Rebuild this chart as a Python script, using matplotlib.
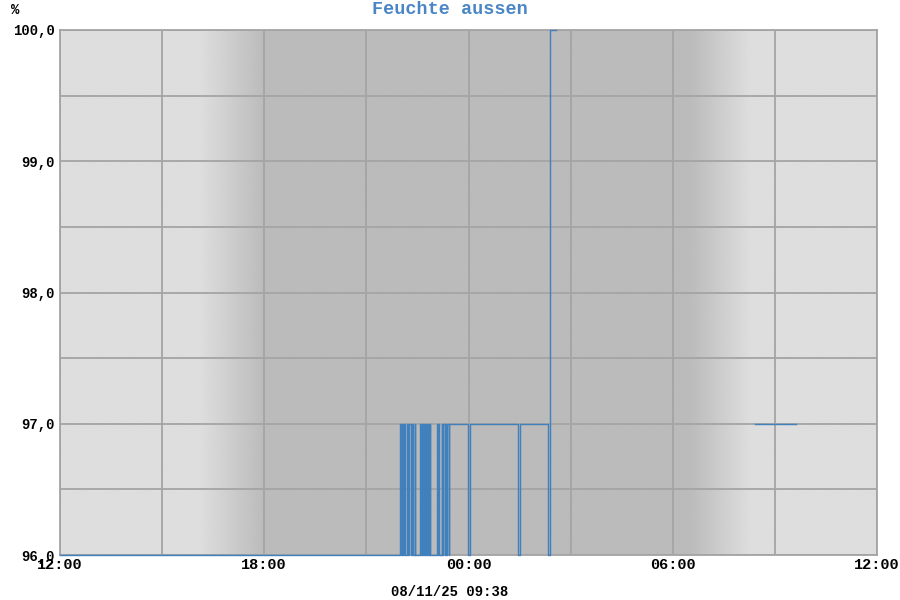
import numpy as np
import matplotlib
matplotlib.use("Agg")
import matplotlib.pyplot as plt
import matplotlib.dates as mdates
from datetime import datetime

# ---- data ----
start = datetime(2025, 11, 7, 12, 0)
end = datetime(2025, 11, 8, 12, 0)
title = "Feuchte aussen"
unit = "%"
stamp = "08/11/25 09:38"
x_tick_labels = ["12:00", "18:00", "00:00", "06:00", "12:00"]
y_ticks = [96.0, 97.0, 98.0, 99.0, 100.0]

# measurement times (day offset, "HH:MM") and humidity values (step series)
times = [
    (0, "12:00"),
    (0, "22:00"), (0, "22:01"), (0, "22:02"), (0, "22:05"), (0, "22:07"), (0, "22:08"),
    (0, "22:11"), (0, "22:13"), (0, "22:15"), (0, "22:18"), (0, "22:20"), (0, "22:22"),
    (0, "22:25"), (0, "22:26"), (0, "22:34"), (0, "22:36"), (0, "22:38"), (0, "22:40"),
    (0, "22:41"), (0, "22:43"), (0, "22:45"), (0, "22:47"), (0, "22:48"), (0, "22:51"),
    (0, "22:52"), (0, "22:53"), (0, "23:05"), (0, "23:06"), (0, "23:07"), (0, "23:08"),
    (0, "23:13"), (0, "23:14"), (0, "23:15"), (0, "23:18"), (0, "23:19"), (0, "23:21"),
    (0, "23:22"), (0, "23:25"), (0, "23:26"),
    (0, "23:59"), (1, "00:02"), (1, "01:27"), (1, "01:30"),
    (1, "02:21"), (1, "02:23"), (1, "02:24"), (1, "02:34"),
    (1, "02:35"), (1, "08:25"), (1, "09:38"),
]
values = [
    96,
    97, 96, 97, 96, 97, 96,
    97, 96, 97, 96, 97, 96,
    97, 96, 97, 96, 97, 96,
    97, 96, 97, 96, 97, 96,
    97, 96, 97, 96, 97, 96,
    97, 96, 97, 96, 97, 96,
    97, 96, 97,
    96, 97, 96, 97,
    96, 99, 100, 100,
    np.nan, 97, 97,
]

# night shading: (fade start, full dark, dark end, fade end) in hours since start
night_edges = [4.1, 6.0, 18.5, 20.3]

# ---- build ----
def to_dt(d, hm):
    h, m = map(int, hm.split(":"))
    return datetime(2025, 11, 7 + d, h, m)

tx = [to_dt(d, hm) for d, hm in times]
tnum = mdates.date2num(tx)
vals = np.array(values, dtype=float)

plt.rcParams['font.family'] = ['Liberation Mono', 'DejaVu Sans Mono']
fig = plt.figure(figsize=(9, 6), dpi=100)
ax = fig.add_axes([60 / 900, 45 / 600, 817 / 900, 525 / 600])

x0, x1 = mdates.date2num(start), mdates.date2num(end)
ax.set_xlim(x0, x1)
ax.set_ylim(96, 100)

# background gradient
light, dark = 222 / 255, 187 / 255
hrs = np.linspace(0, 24, 1200)
a, b, c, d = night_edges
shade = np.full_like(hrs, light)
m1 = (hrs >= a) & (hrs < b)
shade[m1] = light + (dark - light) * (hrs[m1] - a) / (b - a)
shade[(hrs >= b) & (hrs <= c)] = dark
m2 = (hrs > c) & (hrs <= d)
shade[m2] = dark + (light - dark) * (hrs[m2] - c) / (d - c)
img = np.tile(shade, (2, 1))
ax.imshow(img, cmap='gray', vmin=0, vmax=1, aspect='auto',
          extent=[x0, x1, 96, 100], zorder=0, interpolation='bilinear')

# grid
grid_col = '#a4a4a4'
for k in range(9):
    xv = x0 + k * 3 / 24
    ax.axvline(xv, color=grid_col, lw=1.3, zorder=1)
for yv in np.arange(96, 100.01, 0.5):
    ax.axhline(yv, color=grid_col, lw=1.3, zorder=1)

ax.plot(tnum, vals, drawstyle='steps-post', color='#3f80bd', lw=1.0, zorder=3,
        clip_on=False)

for s in ax.spines.values():
    s.set_color(grid_col)
    s.set_linewidth(1.3)

ax.set_xticks([x0 + k * 0.25 for k in range(5)])
ax.set_xticklabels(x_tick_labels)
ax.set_yticks(y_ticks)
ax.set_yticklabels([f"{v:.1f}".replace(".", ",") for v in y_ticks])
ax.tick_params(length=0, pad=4)
ax.tick_params(axis='y', labelsize=10)
ax.tick_params(axis='x', labelsize=11, pad=2)
for lab in ax.get_xticklabels() + ax.get_yticklabels():
    lab.set_fontweight('bold')

fig.text(0.5, 1 - 10 / 600, title, ha='center', va='center', color='#4a86c5',
         fontsize=13.3, fontweight='bold')
fig.text(15 / 900, 1 - 10 / 600, unit, ha='center', va='center', fontsize=10, fontweight='bold')
fig.text(450 / 900, 1 - 592 / 600, stamp, ha='center', va='center', fontsize=10, fontweight='bold')

fig.savefig("out.png", dpi=100)
